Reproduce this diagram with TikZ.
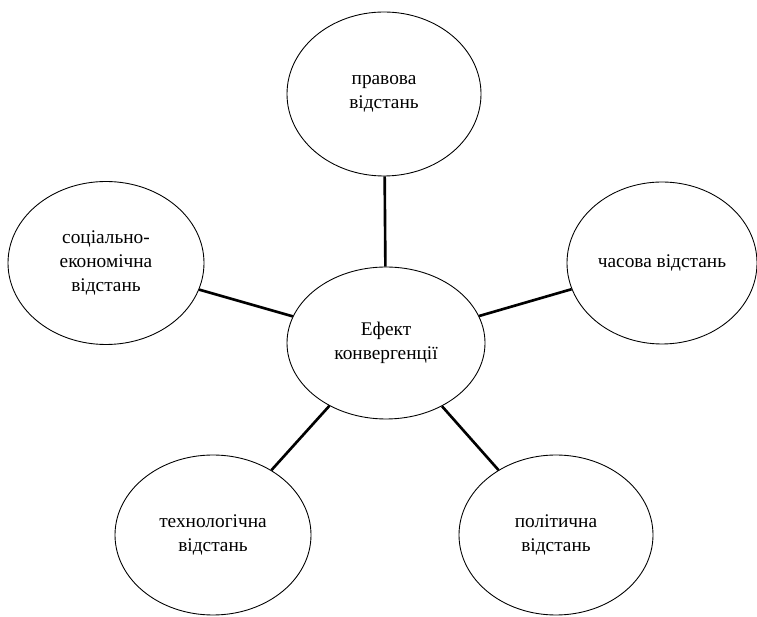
\documentclass[tikz,border=0pt]{standalone}
\usepackage{fontspec}
\setmainfont{Liberation Serif}
\usetikzlibrary{shapes.geometric}

\begin{document}
\begin{tikzpicture}[x=0.02cm,y=-0.02cm,
	bubble/.style={draw,ellipse,line width=0.5pt,inner sep=0pt,align=center,
		font=\fontsize{11}{13.5}\selectfont},
	link/.style={line width=1.5pt}]
	\useasboundingbox (0,0) rectangle (757,617);
	\node[bubble,minimum width=198*0.02cm,minimum height=152*0.02cm] (efekt) at (386,343) {Ефект\\конвергенції};
	\node[bubble,minimum width=194*0.02cm,minimum height=164*0.02cm] (pravova) at (384,94) {правова\\відстань};
	\node[bubble,minimum width=196*0.02cm,minimum height=163*0.02cm] (sotsial) at (106,263) {соціально-\\економічна\\відстань};
	\node[bubble,minimum width=190*0.02cm,minimum height=162*0.02cm] (chasova) at (662,263) {часова відстань};
	\node[bubble,minimum width=196*0.02cm,minimum height=160*0.02cm] (tekhno) at (213,535) {технологічна\\відстань};
	\node[bubble,minimum width=194*0.02cm,minimum height=160*0.02cm] (polit) at (556,535) {політична\\відстань};
	\draw[link] (efekt) -- (pravova);
	\draw[link] (efekt) -- (sotsial);
	\draw[link] (efekt) -- (chasova);
	\draw[link] (efekt) -- (tekhno);
	\draw[link] (efekt) -- (polit);
\end{tikzpicture}
\end{document}
